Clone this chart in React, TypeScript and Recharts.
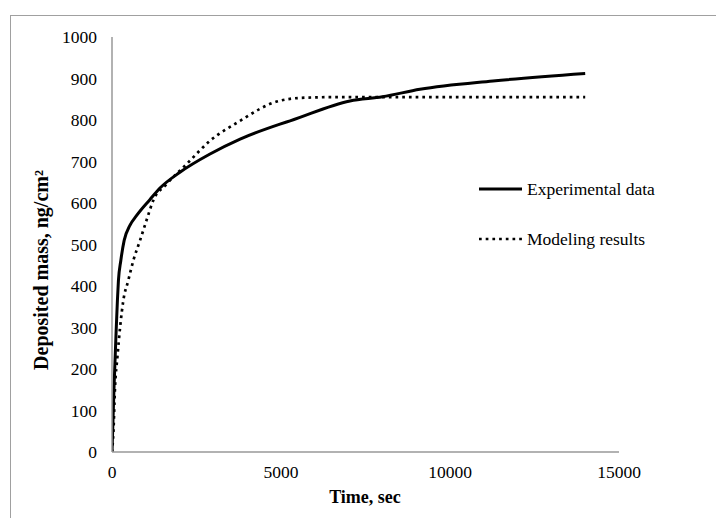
import { LineChart, Line, XAxis, YAxis, Legend } from "recharts";

const FONT = "'Liberation Serif', 'Times New Roman', serif";

// experimental curve (time in sec, mass in ng/cm2)
const expTime = [0, 60, 120, 160, 190, 260, 360, 530, 730, 1120, 1420, 2010, 2900, 3790, 4970, 5270, 7040, 8000, 9110, 11270, 14000];
const expMass = [0, 156, 286, 365, 413, 461, 510, 546, 570, 608, 636, 674, 718, 754, 790, 798, 846, 856, 874, 894, 912];

// model curve
const modTime = [0, 40, 90, 160, 240, 335, 480, 630, 830, 1020, 1220, 1620, 2210, 2900, 3790, 4380, 4680, 5270, 5800, 6500, 14000];
const modMass = [0, 45, 157, 229, 301, 365, 413, 461, 510, 558, 606, 646, 694, 750, 798, 827, 839, 851, 854, 855, 855];

const xTicks = [0, 5000, 10000, 15000];
const yTicks = [0, 100, 200, 300, 400, 500, 600, 700, 800, 900, 1000];

const expData = expTime.map((t, i) => ({ t, v: expMass[i] }));
const modData = modTime.map((t, i) => ({ t, v: modMass[i] }));

const legendItems = [
  { name: "Experimental data", dash: undefined },
  { name: "Modeling results", dash: "2.7 4" },
];

const renderLegend = () => (
  <div style={{ fontFamily: FONT, fontSize: 17.5, color: "#000" }}>
    {legendItems.map((it) => (
      <div key={it.name} style={{ display: "flex", alignItems: "center", height: 50 }}>
        <svg width={43} height={6}>
          <line x1={0} y1={3} x2={43} y2={3} stroke="#000" strokeWidth={it.dash ? 2.7 : 3} strokeDasharray={it.dash} />
        </svg>
        <span style={{ marginLeft: 5 }}>{it.name}</span>
      </div>
    ))}
  </div>
);

const XTick = (props: any) => {
  const { x, y, payload } = props;
  return (
    <text x={x} y={y} dy="0.71em" textAnchor="middle" fontFamily={FONT} fontSize={17.5} fill="#000">
      {payload.value}
    </text>
  );
};

const YTick = (props: any) => {
  const { x, y, payload } = props;
  return (
    <text x={x} y={y} dy="0.35em" textAnchor="end" fontFamily={FONT} fontSize={17.5} fill="#000">
      {payload.value}
    </text>
  );
};

const YTitle = () => (
  <text x={48} y={270} transform="rotate(-90 48 270)" textAnchor="middle" fontFamily={FONT} fontSize={20} fontWeight="bold" fill="#000">
    Deposited mass, ng/cm²
  </text>
);

const XTitle = () => (
  <text x={365} y={503} textAnchor="middle" fontFamily={FONT} fontSize={18} fontWeight="bold" fill="#000">
    Time, sec
  </text>
);

export default function App() {
  return (
    <div style={{ position: "absolute", left: 0, top: 0, width: 716, height: 518, background: "#fff", fontFamily: FONT }}>
      <div style={{ position: "absolute", left: 10, top: 15, right: -2, bottom: -2, borderLeft: "1.5px solid #a0a0a0", borderTop: "1.5px solid #a0a0a0" }} />
      <LineChart width={716} height={518} margin={{ top: 37, right: 97, bottom: 36, left: 0 }} style={{ position: "absolute", left: 0, top: 0 }}>
        <XAxis
          type="number"
          dataKey="t"
          domain={[0, 15000]}
          ticks={xTicks}
          height={30}
          tickLine={false}
          tickSize={0}
          tickMargin={14}
          stroke="#999"
          strokeWidth={1.5}
          tick={<XTick />}
          allowDataOverflow
          label={<XTitle />}
        />
        <YAxis
          type="number"
          dataKey="v"
          width={112}
          domain={[0, 1000]}
          ticks={yTicks}
          tickLine={false}
          tickSize={0}
          tickMargin={15}
          stroke="#999"
          strokeWidth={1.5}
          tick={<YTick />}
          label={<YTitle />}
        />
        <Legend
          content={renderLegend}
          layout="vertical"
          align="center"
          verticalAlign="middle"
          wrapperStyle={{ left: 479, top: 164, width: 220 }}
        />
        <Line
          data={expData}
          dataKey="v"
          name="Experimental data"
          type="monotone"
          stroke="#000"
          strokeWidth={3}
          dot={false}
          isAnimationActive={false}
        />
        <Line
          data={modData}
          dataKey="v"
          name="Modeling results"
          type="monotone"
          stroke="#000"
          strokeWidth={2.7}
          strokeDasharray="2.7 4"
          dot={false}
          isAnimationActive={false}
        />
      </LineChart>
    </div>
  );
}
